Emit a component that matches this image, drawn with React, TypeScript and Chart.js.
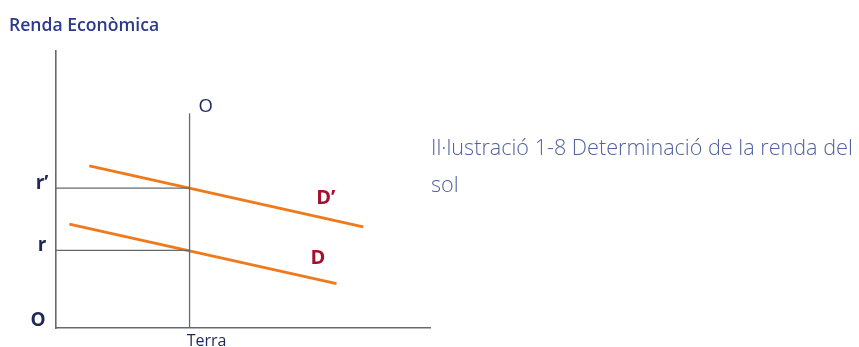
import React, { useEffect, useRef } from "react";
import { Chart, registerables } from "chart.js";

Chart.register(...registerables);

// Land quantity (fixed supply) and rent levels
const landSupply = 10;
const rentLevels = [5.6, 10.1]; // r, r'
const rentLabels = ["r", "r\u2019"];

// Demand curves for land: [x, y] endpoints
const demandD = [
  { x: 1, y: 7.5 },
  { x: 21, y: 3.2 },
];
const demandDPrime = [
  { x: 2.5, y: 11.7 },
  { x: 23, y: 7.3 },
];
const demandLabels = ["D", "D\u2019"];
const demandLabelPos = [
  { x: 19.6, y: 5.0 },
  { x: 20.2, y: 9.4 },
];
const supplyTop = 15.5;

const xMax = 28;
const yMax = 20;

const NAVY = "#1e2757";
const AXIS = "#666a6e";
const ORANGE = "#ef7a1c";
const RED = "#a3112e";

const labelsPlugin = {
  id: "econLabels",
  afterDraw(chart: any) {
    const { ctx, scales } = chart;
    const xs = scales.x;
    const ys = scales.y;
    ctx.save();
    ctx.textBaseline = "middle";

    // Title
    ctx.fillStyle = "#2c3a8c";
    ctx.font = "600 17.6px 'Open Sans'";
    ctx.textAlign = "left";
    ctx.fillText("Renda Econòmica", 9, 26);

    // Rent levels on the vertical axis
    ctx.fillStyle = NAVY;
    ctx.font = "bold 19px 'Open Sans'";
    ctx.textAlign = "center";
    rentLevels.forEach((v, i) => {
      ctx.fillText(rentLabels[i], 42, ys.getPixelForValue(v) - 5);
    });
    ctx.fillText("O", 38, 321);

    // Supply label
    ctx.font = "18.5px 'Open Sans'";
    ctx.fillText("O", xs.getPixelForValue(landSupply) + 16, 107);

    // Land label under the axis
    ctx.font = "16px 'Open Sans'";
    ctx.fillText("Terra", xs.getPixelForValue(landSupply) + 17, 341);

    // Demand labels
    ctx.fillStyle = RED;
    ctx.font = "bold 20px 'Open Sans'";
    demandLabels.forEach((t, i) => {
      const p = demandLabelPos[i];
      ctx.fillText(t, xs.getPixelForValue(p.x), ys.getPixelForValue(p.y));
    });

    // Caption
    ctx.fillStyle = "#5262a0";
    ctx.font = "300 21.6px 'Open Sans'";
    ctx.textAlign = "left";
    ctx.textBaseline = "alphabetic";
    ctx.fillText("Il·lustració 1-8 Determinació de la renda del", 431, 155);
    ctx.fillText("sol", 431, 192);
    ctx.restore();
  },
};

export default function App() {
  const ref = useRef<HTMLCanvasElement | null>(null);

  useEffect(() => {
    if (!ref.current) return;
    const gray = (data: { x: number; y: number }[]) => ({
      data,
      showLine: true,
      borderColor: AXIS,
      borderWidth: 1.3,
      pointRadius: 0,
    });
    const orange = (data: { x: number; y: number }[]) => ({
      data,
      showLine: true,
      borderColor: ORANGE,
      borderWidth: 2.8,
      pointRadius: 0,
    });
    const chart = new Chart(ref.current, {
      type: "scatter",
      data: {
        datasets: [
          gray([
            { x: landSupply, y: 0 },
            { x: landSupply, y: supplyTop },
          ]),
          ...rentLevels.map((r) =>
            gray([
              { x: 0, y: r },
              { x: landSupply, y: r },
            ])
          ),
          orange(demandD),
          orange(demandDPrime),
        ],
      },
      options: {
        animation: false,
        responsive: false,
        maintainAspectRatio: false,
        events: [],
        layout: { padding: { left: 56, top: 51, right: 429, bottom: 19 } },
        plugins: {
          legend: { display: false },
          tooltip: { enabled: false },
          title: { display: false },
        },
        scales: {
          x: {
            type: "linear",
            min: 0,
            max: xMax,
            grid: { display: false, drawTicks: false },
            ticks: { display: false },
            border: { display: true, color: AXIS, width: 1.6 },
          },
          y: {
            type: "linear",
            min: 0,
            max: yMax,
            grid: { display: false, drawTicks: false },
            ticks: { display: false },
            border: { display: true, color: AXIS, width: 1.6 },
          },
        },
      },
      plugins: [labelsPlugin],
    });
    return () => chart.destroy();
  }, []);

  return (
    <div
      style={{
        position: "fixed",
        left: 0,
        top: 0,
        width: 859,
        height: 347,
        background: "#fff",
        overflow: "hidden",
      }}
    >
      <canvas ref={ref} width={859} height={347} style={{ display: "block" }} />
    </div>
  );
}
